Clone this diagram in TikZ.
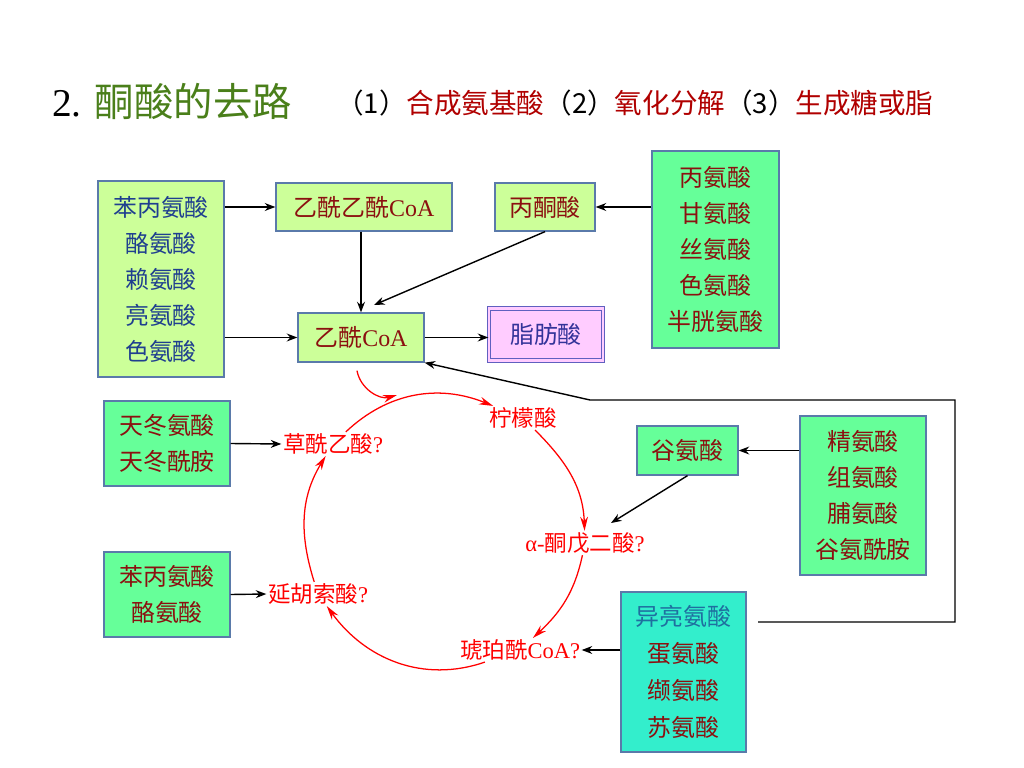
\documentclass[tikz,border=0pt]{standalone}
\usepackage{fontspec}
\setmainfont{Liberation Serif}
\newfontfamily\cjk{Noto Sans CJK SC}
\usetikzlibrary{arrows.meta}
\definecolor{boxline}{HTML}{5A7AAA}
\definecolor{lgreen}{HTML}{CCFF99}
\definecolor{mgreen}{HTML}{66FF99}
\definecolor{tgreen}{HTML}{33EECC}
\definecolor{lpink}{HTML}{FFCCFF}
\definecolor{pinkline}{HTML}{6060C0}
\definecolor{boxred}{HTML}{8B1010}
\definecolor{boxblue}{HTML}{1F3F8F}
\definecolor{fatblue}{HTML}{333399}
\definecolor{tealtext}{HTML}{1F6F9F}
\definecolor{titlegreen}{HTML}{4A7F1A}
\definecolor{subred}{HTML}{B00000}

\begin{document}
\begin{tikzpicture}[x=0.025cm,y=0.025cm,>=Stealth,
  box/.style={draw=boxline,line width=0.9pt,inner sep=0pt,align=center,
    font=\cjk\fontsize{17}{25.6}\selectfont},
  lbl/.style={text=red,inner sep=1pt,font=\cjk\fontsize{16}{18}\selectfont},
  cyc/.style={red,line width=0.9pt,-{Stealth[length=10pt,width=5.5pt]}},
  link/.style={line width=1pt,->}]
\useasboundingbox (0,0) rectangle (1024,-768);

% title
\node[anchor=west,inner sep=0pt] (title) at (52,-101)
  {\fontsize{28}{30}\selectfont 2. {\cjk\color{titlegreen}酮酸的去路}};
\node[anchor=west,inner sep=0pt,font=\cjk\fontsize{19.6}{21}\selectfont] (fate) at (336,-103)
  {（1）\textcolor{subred}{合成氨基酸}（2）\textcolor{subred}{氧化分解}（3）\textcolor{subred}{生成糖或脂}};

% boxes
\node[box,fill=lgreen,text=boxblue,minimum width=3.15cm,minimum height=4.9cm] (keto) at (161,-279)
  {苯丙氨酸\\酪氨酸\\赖氨酸\\亮氨酸\\色氨酸};
\node[box,fill=lgreen,text=boxred,minimum width=4.4cm,minimum height=1.2cm] (acac) at (364,-207)
  {乙酰乙酰\textrm{CoA}};
\node[box,fill=lgreen,text=boxred,minimum width=2.5cm,minimum height=1.2cm] (pyr) at (545,-207)
  {丙酮酸};
\node[box,fill=mgreen,text=boxred,minimum width=3.175cm,minimum height=4.925cm] (pyraa) at (715.5,-249.5)
  {丙氨酸\\甘氨酸\\丝氨酸\\色氨酸\\半胱氨酸};
\node[box,fill=lgreen,text=boxred,minimum width=3.15cm,minimum height=1.225cm] (accoa) at (361,-337.5)
  {乙酰\textrm{CoA}};
\node[box,draw=pinkline,double=lpink,double distance=1.6pt,fill=lpink,text=fatblue,
  minimum width=2.85cm,minimum height=1.3cm] (fatty) at (546,-334.5) {脂肪酸};
\node[box,fill=mgreen,text=boxred,minimum width=3.15cm,minimum height=2.125cm] (asp) at (167,-443.5)
  {天冬氨酸\\天冬酰胺};
\node[box,fill=mgreen,text=boxred,minimum width=3.15cm,minimum height=2.125cm] (phe) at (167,-594.5)
  {苯丙氨酸\\酪氨酸};
\node[box,fill=mgreen,text=boxred,minimum width=2.525cm,minimum height=1.225cm] (glu) at (687.5,-450.5)
  {谷氨酸};
\node[box,fill=mgreen,text=boxred,minimum width=3.15cm,minimum height=3.975cm] (gluaa) at (863,-495.5)
  {精氨酸\\组氨酸\\脯氨酸\\谷氨酰胺};
\node[box,fill=tgreen,text=boxred,minimum width=3.125cm,minimum height=4cm,
  font=\cjk\fontsize{17}{26.2}\selectfont] (ile) at (683.5,-672)
  {\textcolor{tealtext}{异亮氨酸}\\蛋氨酸\\缬氨酸\\苏氨酸};

% cycle
\node[lbl] (cit) at (523,-418) {柠檬酸};
\node[lbl] (akg) at (585,-543) {\textrm{α-}酮戊二酸\textrm{?}};
\node[lbl] (suc) at (520,-650) {琥珀酰\textrm{CoA?}};
\node[lbl] (fum) at (318,-594) {延胡索酸\textrm{?}};
\node[lbl] (oaa) at (333,-444) {草酰乙酸\textrm{?}};
\coordinate (join) at (397,-395);
\coordinate (accoain) at (374,-305);
\coordinate (akgin) at (611,-523);
\coordinate (loopstart) at (758,-622);

\draw[cyc] (oaa) to[out=43.5,in=158] (cit);
\draw[cyc] (cit) to[out=-45,in=92] (akg);
\draw[cyc] (akg) to[out=-102,in=43] (suc);
\draw[cyc] (suc) to[out=-161,in=-54] (fum);
\draw[cyc] (fum) to[out=107.5,in=-121.5] (oaa);
\draw[cyc] ([xshift=-0.1cm,yshift=-0.2cm]accoa.south) to[out=-80,in=196] (join);

% black arrows
\draw[link] (keto.east |- acac.west) -- (acac.west);
\draw[link] (keto.east |- accoa.west) -- (accoa.west);
\draw[link] (acac.south -| accoa.north) -- (accoa.north);
\draw[link] (pyr.south) -- (accoain);
\draw[link] (pyraa.west |- pyr.east) -- (pyr.east);
\draw[link] (accoa.east) -- (accoa.east -| fatty.west);
\draw[link] (asp.east) -- (oaa.west);
\draw[link] (phe.east) -- (fum.west);
\draw[link] (gluaa.west |- glu.east) -- (glu.east);
\draw[link] (glu.south) -- (akgin);
\draw[link] (ile.west |- suc.east) -- (suc.east);
\draw[link] (loopstart) -- (955,-622) -- (955,-400) -- (590,-400) -- (accoa.south east);
\end{tikzpicture}
\end{document}
